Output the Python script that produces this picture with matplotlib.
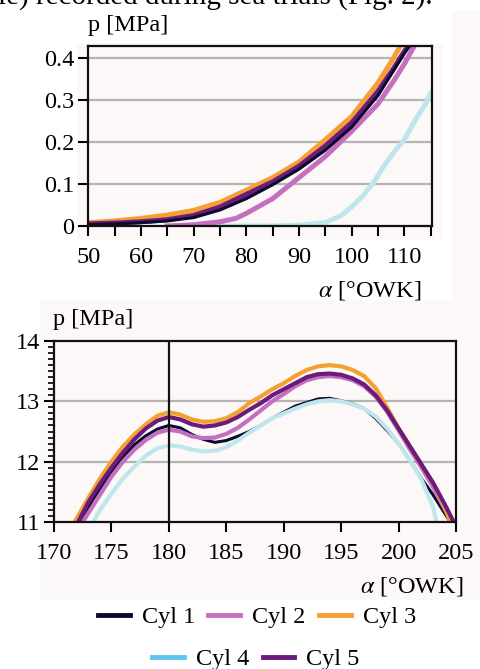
import matplotlib
matplotlib.use("Agg")
import matplotlib.pyplot as plt
from matplotlib.lines import Line2D
from matplotlib.patches import Rectangle
from matplotlib.ticker import MultipleLocator, FixedLocator

plt.rcParams['font.family'] = ['Liberation Serif', 'DejaVu Serif']
plt.rcParams['mathtext.fontset'] = 'stix'

# ---------------- data: top chart (start of combustion) ----------------
top_cyl1_x = [50, 55, 60, 65, 70, 75, 80, 85, 90, 95, 100, 105, 108, 110, 112]
top_cyl1_y = [0.003, 0.005, 0.008, 0.012, 0.020, 0.038, 0.065, 0.098, 0.135, 0.180, 0.235, 0.310, 0.370, 0.410, 0.445]
top_cyl2_x = [65, 70, 75, 78, 80, 85, 90, 95, 100, 105, 108, 110, 112, 113]
top_cyl2_y = [0.000, 0.003, 0.010, 0.018, 0.030, 0.065, 0.115, 0.165, 0.225, 0.290, 0.345, 0.385, 0.430, 0.450]
top_cyl3_x = [50, 55, 60, 65, 70, 75, 80, 85, 90, 95, 100, 105, 108, 110]
top_cyl3_y = [0.008, 0.012, 0.018, 0.026, 0.037, 0.056, 0.085, 0.115, 0.152, 0.205, 0.260, 0.340, 0.400, 0.445]
top_cyl4_x = [65, 75, 85, 90, 95, 98, 100, 102, 104, 106, 108, 110, 112, 114, 115]
top_cyl4_y = [0.000, 0.000, 0.000, 0.002, 0.008, 0.025, 0.045, 0.070, 0.100, 0.140, 0.175, 0.205, 0.250, 0.290, 0.315]
top_cyl5_x = [50, 55, 60, 65, 70, 75, 80, 85, 90, 95, 100, 105, 108, 110, 112]
top_cyl5_y = [0.005, 0.007, 0.010, 0.015, 0.025, 0.045, 0.075, 0.105, 0.142, 0.190, 0.245, 0.320, 0.375, 0.415, 0.450]

# ---------------- data: bottom chart (peak pressure region) ----------------
bot_cyl1_x = [172.3, 173, 174, 175, 176, 177, 178, 179, 180, 181, 182, 183, 184, 185, 186, 187, 188, 189, 190,
              191, 192, 193, 194, 195, 196, 197, 198, 199, 200, 201, 202, 203, 204, 204.5]
bot_cyl1_y = [11.0, 11.25, 11.55, 11.82, 12.08, 12.28, 12.43, 12.54, 12.60, 12.56, 12.45, 12.37, 12.32, 12.35, 12.42,
              12.50, 12.60, 12.72, 12.82, 12.92, 12.98, 13.04, 13.05, 13.01, 12.96, 12.88, 12.72, 12.52, 12.30,
              12.02, 11.72, 11.45, 11.15, 11.0]
bot_cyl2_x = [172.5, 173, 174, 175, 176, 177, 178, 179, 180, 181, 182, 183, 184, 185, 186, 187, 188, 189, 190,
              191, 192, 193, 194, 195, 196, 197, 198, 199, 200, 201, 202, 203, 204, 204.7]
bot_cyl2_y = [11.0, 11.15, 11.45, 11.75, 12.00, 12.20, 12.36, 12.48, 12.53, 12.50, 12.42, 12.39, 12.40, 12.46, 12.56,
              12.70, 12.85, 13.00, 13.12, 13.25, 13.35, 13.40, 13.42, 13.40, 13.35, 13.25, 13.08, 12.83, 12.52,
              12.20, 11.90, 11.58, 11.22, 11.0]
bot_cyl3_x = [171.8, 173, 174, 175, 176, 177, 178, 179, 180, 181, 182, 183, 184, 185, 186, 187, 188, 189, 190,
              191, 192, 193, 194, 195, 196, 197, 198, 199, 200, 201, 202, 203, 204, 204.5]
bot_cyl3_y = [11.0, 11.40, 11.72, 12.00, 12.25, 12.45, 12.62, 12.76, 12.82, 12.78, 12.70, 12.66, 12.67, 12.72, 12.82,
              12.97, 13.08, 13.20, 13.30, 13.42, 13.52, 13.58, 13.60, 13.58, 13.52, 13.42, 13.22, 12.90, 12.55,
              12.25, 11.95, 11.65, 11.25, 11.0]
bot_cyl4_x = [173.4, 174, 175, 176, 177, 178, 179, 180, 181, 182, 183, 184, 185, 186, 187, 188, 189, 190,
              191, 192, 193, 194, 195, 196, 197, 198, 199, 200, 201, 202, 203, 203.3]
bot_cyl4_y = [11.0, 11.20, 11.47, 11.72, 11.92, 12.10, 12.22, 12.27, 12.25, 12.20, 12.17, 12.18, 12.24, 12.35, 12.48,
              12.60, 12.72, 12.80, 12.88, 12.95, 13.00, 13.02, 13.00, 12.95, 12.88, 12.75, 12.55, 12.30, 12.02,
              11.70, 11.25, 11.0]
bot_cyl5_x = [172.1, 173, 174, 175, 176, 177, 178, 179, 180, 181, 182, 183, 184, 185, 186, 187, 188, 189, 190,
              191, 192, 193, 194, 195, 196, 197, 198, 199, 200, 201, 202, 203, 204, 204.8]
bot_cyl5_y = [11.0, 11.33, 11.63, 11.90, 12.15, 12.37, 12.55, 12.68, 12.74, 12.70, 12.62, 12.58, 12.60, 12.65, 12.74,
              12.86, 12.97, 13.10, 13.20, 13.30, 13.40, 13.45, 13.46, 13.44, 13.38, 13.28, 13.10, 12.85, 12.55,
              12.25, 11.95, 11.65, 11.30, 11.0]

labels = ["Cyl 1", "Cyl 2", "Cyl 3", "Cyl 4", "Cyl 5"]
line_colors = ["#0b0b2e", "#c46fc0", "#f5a033", "#bfe6ea", "#6b1b7c"]
legend_colors = ["#0b0b2e", "#c46fc0", "#f5a033", "#5cc6ee", "#6b1b7c"]

W, H = 481, 669
fig = plt.figure(figsize=(W / 100, H / 100), dpi=100)
fig.patch.set_facecolor("white")

# faint scan background tints (behind everything)
for (x0, y0, w, h) in [(77, 43, 366, 197), (452, 10, 29, 290), (40, 300, 441, 300)]:
    fig.patches.append(Rectangle((x0 / W, 1 - (y0 + h) / H), w / W, h / H, transform=fig.transFigure,
                                 facecolor="#fcf8f7", edgecolor="none", zorder=-10))

FS = 17.5
bg = "#fcf8f7"
grid_c = "#b4b4b4"

# top cut-off text line (body text of the page above the figure)
fig.text(-2 / W, 1 - 4 / H, "le) recorded during sea trials (Fig. 2).", fontsize=21, va="baseline", ha="left")

# ---------------- top axes ----------------
ax1 = fig.add_axes([88.3 / W, 1 - 226 / H, (431.7 - 88.3) / W, (226 - 45.7) / H])
ax1.set_facecolor(bg)
ax1.set_xlim(50, 115.2)
ax1.set_ylim(0, 0.4284)
for y in [0.1, 0.2, 0.3, 0.4]:
    ax1.axhline(y, color=grid_c, lw=1.6, zorder=1)
tops = [(top_cyl1_x, top_cyl1_y), (top_cyl2_x, top_cyl2_y), (top_cyl3_x, top_cyl3_y),
        (top_cyl4_x, top_cyl4_y), (top_cyl5_x, top_cyl5_y)]
for i in [3, 1, 2, 0, 4]:
    xs, ys = tops[i]
    ax1.plot(xs, ys, color=line_colors[i], lw=3.6 if i != 0 else 2.2,
             zorder=2 + (i == 0) * 0.5 + (i == 4) * 0.3)
ax1.xaxis.set_major_locator(FixedLocator([50, 60, 70, 80, 90, 100, 110]))
ax1.xaxis.set_minor_locator(FixedLocator([55, 65, 75, 85, 95, 105, 115]))
ax1.yaxis.set_major_locator(FixedLocator([0, 0.1, 0.2, 0.3, 0.4]))
ax1.set_yticklabels(["0", "0.1", "0.2", "0.3", "0.4"])
ax1.tick_params(axis="both", which="major", direction="out", length=7, width=1.5, labelsize=FS, pad=3, color="black")
ax1.tick_params(axis="x", which="minor", direction="out", length=7, width=1.5)
ax1.tick_params(axis="x", which="major", pad=8)
for s in ax1.spines.values():
    s.set_linewidth(1.6)
    s.set_color("#111111")

fig.text(88 / W, 1 - 31 / H, "p [MPa]", fontsize=FS, va="baseline", ha="left")
fig.text(421 / W, 1 - 297 / H, r"$\alpha$ [°OWK]", fontsize=FS, va="baseline", ha="right")

# ---------------- bottom axes ----------------
ax2 = fig.add_axes([54 / W, 1 - 522 / H, (456 - 54) / W, (522 - 341) / H])
ax2.set_facecolor(bg)
ax2.set_xlim(170, 205)
ax2.set_ylim(11, 14)
for y in [12, 13]:
    ax2.axhline(y, color=grid_c, lw=1.6, zorder=1)
ax2.axvline(180, color="#111111", lw=1.6, zorder=5)
bots = [(bot_cyl1_x, bot_cyl1_y), (bot_cyl2_x, bot_cyl2_y), (bot_cyl3_x, bot_cyl3_y),
        (bot_cyl4_x, bot_cyl4_y), (bot_cyl5_x, bot_cyl5_y)]
for i in [3, 2, 1, 0, 4]:
    xs, ys = bots[i]
    ax2.plot(xs, ys, color=line_colors[i], lw=3.0 if i != 0 else 2.2, zorder=2 + i * 0.1)
ax2.xaxis.set_major_locator(MultipleLocator(5))
ax2.yaxis.set_major_locator(MultipleLocator(1))
ax2.yaxis.set_minor_locator(MultipleLocator(0.1))
ax2.tick_params(axis="both", which="major", direction="out", length=7, width=1.5, labelsize=FS, pad=3)
ax2.tick_params(axis="x", which="major", pad=8)
ax2.tick_params(axis="y", which="minor", direction="out", length=4, width=1.2)
for s in ax2.spines.values():
    s.set_linewidth(1.6)
    s.set_color("#111111")

fig.text(53 / W, 1 - 325 / H, "p [MPa]", fontsize=FS, va="baseline", ha="left")
fig.text(463 / W, 1 - 592 / H, r"$\alpha$ [°OWK]", fontsize=FS, va="baseline", ha="right")

# ---------------- legend (two rows) ----------------
handles = [Line2D([], [], color=c, lw=3.5) for c in legend_colors]
fig.legend(handles[:3], labels[:3], loc="center", bbox_to_anchor=(257 / W, 1 - 617 / H), ncol=3,
           frameon=False, fontsize=FS, handlelength=1.3, handletextpad=0.5, columnspacing=0.55, borderpad=0)
fig.legend(handles[3:], labels[3:], loc="center", bbox_to_anchor=(256 / W, 1 - 659 / H), ncol=2,
           frameon=False, fontsize=FS, handlelength=1.3, handletextpad=0.5, columnspacing=0.55, borderpad=0)

fig.savefig("out.png", dpi=100)
